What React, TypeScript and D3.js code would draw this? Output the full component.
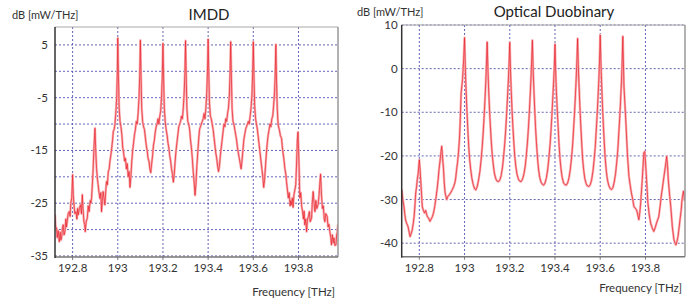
import * as d3 from 'd3';

type Pt = [number, number];

// frequency axis, THz
const freqDomain: [number, number] = [192.722, 193.975];
const freqTicks = [192.8, 193, 193.2, 193.4, 193.6, 193.8];

// IMDD: power axis, dB
const imddDomain: [number, number] = [-35.2, 8.4];
const imddGrid = [5, 0, -5, -10, -15, -20, -25, -30, -35];
const imddLabels = [5, -5, -15, -25, -35];

// Duobinary: power axis, dB
const duoDomain: [number, number] = [-43.1, 10];
const duoGrid = [10, 0, -10, -20, -30, -40];
const duoLabels = [10, 0, -10, -20, -30, -40];

// IMDD spectrum [THz, dB]
const imddLow: Pt[] = [
  [192.722, -27.2], [192.725, -29.5], [192.729, -29.7], [192.732, -31.5], [192.736, -30.2],
  [192.741, -32.3], [192.745, -30.5], [192.748, -32], [192.751, -31.6], [192.755, -29.8],
  [192.758, -29.1], [192.762, -31], [192.766, -30.4], [192.77, -28], [192.773, -29.5],
  [192.776, -28.5], [192.78, -27], [192.785, -26.6], [192.789, -27.5], [192.792, -25],
  [192.796, -24], [192.798, -22], [192.8, -19.6], [192.803, -23.5], [192.806, -25.3],
  [192.81, -27], [192.815, -26.6], [192.819, -28], [192.822, -26], [192.825, -27.2],
  [192.83, -26], [192.835, -25.3], [192.839, -27], [192.843, -23.4], [192.846, -26],
  [192.85, -28.5], [192.853, -29], [192.856, -30.4], [192.86, -28.5], [192.865, -27.8],
  [192.869, -25.5], [192.873, -26.6], [192.878, -24.5], [192.881, -25], [192.884, -24],
  [192.888, -21], [192.891, -18.4], [192.895, -14], [192.899, -10.8], [192.902, -14.5],
  [192.906, -18.4], [192.91, -20.5], [192.913, -21.5], [192.917, -23], [192.921, -24.1],
  [192.925, -23], [192.928, -26.6], [192.932, -24.5], [192.935, -22.8], [192.939, -24],
  [192.943, -25.3], [192.947, -22.5], [192.95, -20.9], [192.954, -21.5], [192.958, -19],
  [192.962, -18.5], [192.965, -17.1], [192.969, -16], [192.973, -14.6], [192.977, -13],
  [192.98, -11.4], [192.984, -11], [192.987, -10.2], [192.991, -8], [192.995, -5.1],
  [192.998, 0],
];

const imddChannels: Pt[] = [
  [193.0, 6.3], [193.003, -1], [193.006, -7], [193.01, -9.5], [193.014, -10.5],
  [193.018, -12], [193.022, -14.5], [193.026, -15.5], [193.03, -17], [193.034, -16.5],
  [193.038, -18.5], [193.042, -17.5], [193.046, -20], [193.05, -19], [193.054, -22],
  [193.058, -20], [193.062, -17], [193.066, -15], [193.07, -13.5], [193.074, -12],
  [193.078, -11], [193.082, -9.5], [193.086, -10], [193.09, -8], [193.094, -5],
  [193.097, -1],
  [193.1, 5.9], [193.103, -1], [193.106, -7], [193.11, -9.5], [193.114, -10.5],
  [193.118, -11], [193.122, -12.5], [193.126, -14], [193.13, -15], [193.134, -16.5],
  [193.138, -17], [193.142, -18.5], [193.146, -19.2], [193.15, -17.5], [193.154, -16],
  [193.158, -14], [193.162, -13], [193.166, -11.5], [193.17, -10.5], [193.174, -10],
  [193.178, -9], [193.182, -10], [193.186, -8.5], [193.19, -7.5], [193.194, -4.5],
  [193.197, -1],
  [193.2, 5.3], [193.203, -1.5], [193.206, -7], [193.21, -9.5], [193.214, -11],
  [193.218, -12], [193.222, -13.5], [193.226, -14.5], [193.23, -16], [193.234, -17],
  [193.238, -18.5], [193.242, -19.5], [193.246, -21], [193.25, -19.5], [193.254, -17],
  [193.258, -15], [193.262, -13.5], [193.266, -12], [193.27, -10.5], [193.274, -10],
  [193.278, -9.5], [193.282, -8.5], [193.286, -9], [193.29, -7], [193.294, -4],
  [193.297, -0.5],
  [193.3, 5.8], [193.303, -1], [193.306, -7], [193.31, -9.5], [193.314, -10],
  [193.318, -11], [193.322, -13], [193.326, -14.5], [193.33, -16.5], [193.334, -19],
  [193.338, -21], [193.342, -23.5], [193.346, -21.5], [193.35, -18], [193.354, -15.5],
  [193.358, -13], [193.362, -11], [193.366, -10.5], [193.37, -10], [193.374, -9.5],
  [193.378, -9], [193.382, -8], [193.386, -9], [193.39, -7], [193.394, -4],
  [193.397, 0],
  [193.4, 6.1], [193.403, -0.5], [193.406, -6], [193.41, -8.5], [193.414, -9],
  [193.418, -10], [193.422, -11], [193.426, -12.5], [193.43, -14], [193.434, -15.5],
  [193.438, -16.5], [193.442, -18], [193.446, -19], [193.45, -18], [193.454, -16],
  [193.458, -14.5], [193.462, -13], [193.466, -11.5], [193.47, -10], [193.474, -10.5],
  [193.478, -9], [193.482, -9.5], [193.486, -8], [193.49, -7], [193.494, -4.5],
  [193.497, -0.5],
  [193.5, 5.6], [193.503, -1], [193.506, -7], [193.51, -9.5], [193.514, -10],
  [193.518, -11], [193.522, -12], [193.526, -13], [193.53, -14.5], [193.534, -15.5],
  [193.538, -16.5], [193.542, -17.5], [193.546, -18.5], [193.55, -17], [193.554, -15],
  [193.558, -13], [193.562, -12], [193.566, -11], [193.57, -10.5], [193.574, -10],
  [193.578, -9.5], [193.582, -10], [193.586, -8.5], [193.59, -7], [193.594, -4.5],
  [193.597, -0.5],
  [193.6, 5.6], [193.603, -1], [193.606, -6.5], [193.61, -9], [193.614, -10],
  [193.618, -11], [193.622, -12.5], [193.626, -14], [193.63, -15.5], [193.634, -17],
  [193.638, -18.5], [193.642, -20], [193.646, -22], [193.65, -20.5], [193.654, -18],
  [193.658, -15.5], [193.662, -13.5], [193.666, -12], [193.67, -11], [193.674, -10],
  [193.678, -10.5], [193.682, -9], [193.686, -8.5], [193.69, -6.5], [193.694, -4],
  [193.697, -0.5],
  [193.7, 5.1],
];

const imddHigh: Pt[] = [
  [193.703, -2], [193.706, -7], [193.71, -10.2], [193.715, -11], [193.72, -12.2],
  [193.725, -12.7], [193.73, -15], [193.735, -16.5], [193.74, -18.5], [193.744, -19.5],
  [193.747, -20.9], [193.751, -22.5], [193.755, -24], [193.759, -23], [193.763, -25.5],
  [193.766, -24.5], [193.769, -25.3], [193.773, -24], [193.776, -25.8], [193.78, -23.4],
  [193.784, -22.5], [193.788, -21.5], [193.792, -17], [193.795, -13], [193.798, -11.5],
  [193.802, -17], [193.806, -24], [193.81, -23], [193.814, -25.5], [193.818, -26.6],
  [193.822, -28], [193.825, -26.5], [193.828, -29.1], [193.832, -28], [193.836, -30.4],
  [193.84, -28], [193.844, -27.5], [193.848, -26.6], [193.852, -28.5], [193.858, -27.8],
  [193.861, -25], [193.865, -22.8], [193.869, -25], [193.873, -26.6], [193.877, -24.5],
  [193.881, -26], [193.887, -25.3], [193.891, -23.5], [193.895, -21], [193.898, -19.5],
  [193.902, -23.5], [193.906, -26], [193.91, -25.5], [193.914, -28], [193.917, -28.5],
  [193.921, -27], [193.927, -27.5], [193.931, -29.5], [193.935, -29], [193.939, -30.4],
  [193.943, -31.5], [193.946, -32.9], [193.95, -31], [193.954, -32.5], [193.957, -31.6],
  [193.961, -33], [193.966, -32.9], [193.969, -31], [193.972, -30.5], [193.975, -29],
];

// Optical duobinary spectrum [THz, dB]
const duoLow: Pt[] = [
  [192.722, -27.7], [192.727, -30], [192.732, -31.6], [192.736, -33.5], [192.739, -34.6],
  [192.744, -35.5], [192.75, -36.2], [192.755, -37.5], [192.759, -38.5], [192.764, -37.8],
  [192.769, -36.9], [192.773, -35.5], [192.777, -33.9], [192.781, -31], [192.784, -28.5],
  [192.788, -27], [192.791, -25.4], [192.795, -24], [192.798, -22], [192.8, -20.9],
  [192.803, -23], [192.806, -25.4], [192.81, -29], [192.813, -31.6], [192.818, -32.5],
  [192.823, -33.1], [192.828, -32.5], [192.835, -33.9], [192.84, -34.2], [192.847, -35],
  [192.852, -34.5], [192.858, -33.9], [192.863, -33], [192.868, -31.6], [192.874, -29.5],
  [192.88, -27], [192.884, -25], [192.887, -23.1], [192.892, -21], [192.896, -19],
  [192.899, -17.8], [192.903, -20.5], [192.907, -23.1], [192.91, -26], [192.914, -28.5],
  [192.921, -30], [192.926, -29.3], [192.931, -29], [192.938, -28.5], [192.946, -27.7],
  [192.952, -27], [192.957, -26.2], [192.961, -25], [192.965, -23.1], [192.969, -21.5],
  [192.973, -19.3], [192.977, -16.5], [192.98, -13.2], [192.985, -5.5], [192.991, -2.5],
  [192.996, 2.1],
];

const duoChannels: Pt[] = [
  [193.0, 7.1], [193.003, 1], [193.006, -4], [193.01, -9], [193.014, -13.5],
  [193.018, -17.5], [193.022, -20.5], [193.027, -23], [193.032, -25], [193.038, -26.5],
  [193.044, -27.5], [193.05, -27.8], [193.056, -27], [193.062, -25.5], [193.068, -23.5],
  [193.073, -21], [193.078, -18], [193.082, -15], [193.086, -11.5], [193.09, -7.5],
  [193.094, -3], [193.097, 1.5],
  [193.1, 6.1], [193.103, 0.5], [193.106, -4], [193.11, -9], [193.114, -13],
  [193.118, -16.5], [193.122, -19.5], [193.127, -22], [193.132, -24], [193.138, -25.2],
  [193.144, -25.8], [193.15, -25.9], [193.156, -25.5], [193.162, -24.5], [193.168, -22.5],
  [193.173, -20], [193.178, -17], [193.182, -14], [193.186, -10.5], [193.19, -6.5],
  [193.194, -2.5], [193.197, 1.5],
  [193.2, 6.0], [193.203, 0], [193.206, -4.5], [193.21, -9.5], [193.214, -13.5],
  [193.218, -17], [193.222, -20], [193.227, -22.5], [193.232, -24.2], [193.238, -25.3],
  [193.244, -25.8], [193.25, -25.9], [193.256, -25.4], [193.262, -24.3], [193.268, -22.5],
  [193.273, -20], [193.278, -17], [193.282, -14], [193.286, -10.5], [193.29, -6.5],
  [193.294, -2], [193.297, 2],
  [193.3, 6.5], [193.303, 0.5], [193.306, -4], [193.31, -9], [193.314, -13.5],
  [193.318, -17], [193.322, -20], [193.327, -23], [193.332, -24.8], [193.338, -26],
  [193.344, -26.5], [193.35, -26.7], [193.356, -26.2], [193.362, -25], [193.368, -23],
  [193.373, -20.5], [193.378, -17.5], [193.382, -14.5], [193.386, -11], [193.39, -7],
  [193.394, -3], [193.397, 0.5],
  [193.4, 5.6], [193.403, -0.5], [193.406, -5], [193.41, -9.5], [193.414, -13.5],
  [193.418, -17.5], [193.422, -20.5], [193.427, -23.2], [193.432, -25], [193.438, -26.2],
  [193.444, -26.6], [193.45, -26.7], [193.456, -26.2], [193.462, -25], [193.468, -23],
  [193.473, -20.5], [193.478, -17.5], [193.482, -14], [193.486, -10.5], [193.49, -6.5],
  [193.494, -2], [193.497, 2],
  [193.5, 6.9], [193.503, 1], [193.506, -3.5], [193.51, -8.5], [193.514, -13],
  [193.518, -17], [193.522, -20.5], [193.527, -23.3], [193.532, -25.2], [193.538, -26.4],
  [193.544, -26.9], [193.55, -27], [193.556, -26.6], [193.562, -25.5], [193.568, -23.5],
  [193.573, -21], [193.578, -18], [193.582, -14.5], [193.586, -11], [193.59, -7],
  [193.594, -2.5], [193.597, 2],
  [193.6, 7.7], [193.603, 1.5], [193.606, -3], [193.61, -8.5], [193.614, -13],
  [193.618, -17], [193.622, -20.5], [193.627, -23.5], [193.632, -25.5], [193.638, -26.8],
  [193.644, -27.5], [193.65, -27.7], [193.656, -27.3], [193.662, -26], [193.668, -24],
  [193.673, -21.5], [193.678, -18.5], [193.682, -15], [193.686, -11.5], [193.69, -7.5],
  [193.694, -3], [193.697, 1.5],
  [193.7, 7.4],
];

const duoHigh: Pt[] = [
  [193.705, -4], [193.713, -11.7], [193.72, -19.3], [193.727, -24.7], [193.732, -26.5],
  [193.738, -28.5], [193.744, -30], [193.749, -31.6], [193.755, -32], [193.761, -32.4],
  [193.766, -33.5], [193.771, -34.6], [193.775, -33], [193.779, -30.8], [193.786, -25.4],
  [193.793, -19.3], [193.797, -19], [193.801, -22], [193.805, -25.4], [193.811, -30.8],
  [193.817, -33.5], [193.823, -35.4], [193.83, -36.5], [193.837, -37.3], [193.843, -36.5],
  [193.849, -35.4], [193.855, -34.5], [193.859, -33.9], [193.865, -31.5], [193.87, -29.2],
  [193.876, -27], [193.882, -24.7], [193.888, -22.5], [193.894, -20.1], [193.898, -22.5],
  [193.901, -25.4], [193.907, -29], [193.912, -31.6], [193.919, -36.2], [193.926, -39.2],
  [193.931, -40], [193.935, -40.4], [193.94, -39.5], [193.944, -38.5], [193.953, -34.6],
  [193.958, -32.5], [193.962, -30], [193.968, -28.1], [193.972, -29.5], [193.975, -30.4],
];

const imddSpectrum = [...imddLow, ...imddChannels, ...imddHigh];
const duoSpectrum = [...duoLow, ...duoChannels, ...duoHigh];

const FONT = "Lato, 'Open Sans', sans-serif";
const GRID = '#4b4ba8';

interface PanelProps {
  id: string;
  x0: number; x1: number; y0: number; y1: number;
  yDomain: [number, number];
  yGrid: number[];
  yLabels: number[];
  labelGap: number;
  data: Pt[];
  title: string;
  titleX: number; titleY: number;
  unitX: number; unitY: number;
  freqY: number;
}

function Panel(p: PanelProps) {
  const x = d3.scaleLinear().domain(freqDomain).range([p.x0, p.x1]);
  const y = d3.scaleLinear().domain(p.yDomain).range([p.y1, p.y0]);
  const line = d3.line<Pt>().x(d => x(d[0])).y(d => y(d[1]));
  const path = line(p.data) || '';

  return (
    <g fontFamily={FONT}>
      <clipPath id={p.id}>
        <rect x={p.x0} y={p.y0} width={p.x1 - p.x0} height={p.y1 - p.y0} />
      </clipPath>

      {p.yGrid.map(v => (
        <line key={'h' + v} x1={p.x0} x2={p.x1} y1={y(v)} y2={y(v)}
          stroke={GRID} strokeWidth={1} strokeDasharray="2,2" opacity={0.85} />
      ))}
      {freqTicks.map(v => (
        <line key={'v' + v} x1={x(v)} x2={x(v)} y1={p.y0} y2={p.y1}
          stroke={GRID} strokeWidth={1} strokeDasharray="2,2" opacity={0.85} />
      ))}

      <g clipPath={`url(#${p.id})`}>
        <path d={path} fill="none" stroke="#f8b0b3" strokeWidth={2.4} strokeLinejoin="round" />
        <path d={path} fill="none" stroke="#e8202a" strokeWidth={0.7} strokeLinejoin="round" />
      </g>

      <line x1={p.x0} x2={p.x1} y1={p.y0} y2={p.y0} stroke="#aaa" strokeWidth={1.2} />
      <line x1={p.x1} x2={p.x1} y1={p.y0} y2={p.y1} stroke="#999" strokeWidth={1.5} />
      <line x1={p.x0} x2={p.x1} y1={p.y1} y2={p.y1} stroke="#777" strokeWidth={1.5} />
      <line x1={p.x0} x2={p.x0} y1={p.y0} y2={p.y1 + 1} stroke="#333" strokeWidth={1.5} />

      {freqTicks.map(v => (
        <g key={'t' + v}>
          <line x1={x(v)} x2={x(v)} y1={p.y1} y2={p.y1 + 3} stroke="#777" />
          <text x={x(v)} y={p.y1 + 15} textAnchor="middle" fontSize={11.5} fill="#333">{String(v)}</text>
        </g>
      ))}
      {p.yLabels.map(v => (
        <text key={'l' + v} x={p.x0 - p.labelGap} y={y(v) + 4} textAnchor="end" fontSize={11.5} fill="#333">{String(v)}</text>
      ))}

      <text x={p.titleX} y={p.titleY} textAnchor="middle" fontSize={15} fill="#222">{p.title}</text>
      <text x={p.unitX} y={p.unitY} fontSize={11} fill="#333">dB [mW/THz]</text>
      <text x={p.x1 - 3} y={p.freqY} textAnchor="end" fontSize={11.5} fill="#333">Frequency [THz]</text>
    </g>
  );
}

export default function App() {
  return (
    <svg width={693} height={300} style={{ position: 'absolute', left: 0, top: 0, background: '#fff' }}>
      <rect width={693} height={300} fill="#fff" />
      <Panel id="clipImdd" x0={55} x1={338} y0={27} y1={257}
        yDomain={imddDomain} yGrid={imddGrid} yLabels={imddLabels} labelGap={7}
        data={imddSpectrum} title="IMDD" titleX={209} titleY={20}
        unitX={12} unitY={19} freqY={296} />
      <Panel id="clipDuo" x0={401.7} x1={685} y0={25} y1={256.7}
        yDomain={duoDomain} yGrid={duoGrid} yLabels={duoLabels} labelGap={4}
        data={duoSpectrum} title="Optical Duobinary" titleX={554} titleY={17}
        unitX={357} unitY={16} freqY={292} />
    </svg>
  );
}
